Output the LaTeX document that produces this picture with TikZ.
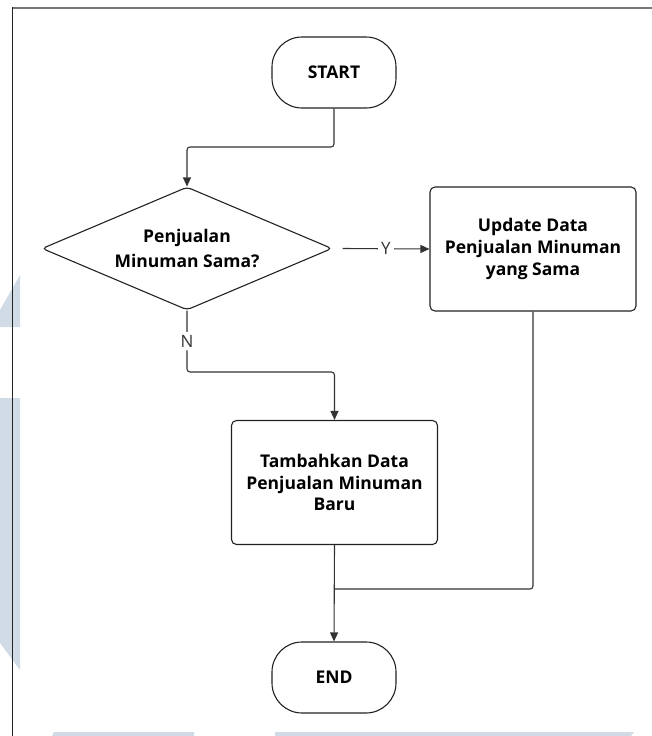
\documentclass[tikz,border=0pt]{standalone}
\usepackage{fontspec}
\setmainfont{Open Sans}
\usetikzlibrary{shapes.geometric,arrows.meta}
\definecolor{ink}{HTML}{222222}
\definecolor{wire}{HTML}{333333}
\definecolor{frameline}{HTML}{777777}
\definecolor{wmblue}{HTML}{D0DBE6}
\tikzset{
  terminal/.style={draw=ink, line width=1.1pt, rounded corners=30pt,
    minimum width=124pt, minimum height=71pt, inner sep=0pt,
    font=\fontsize{17.5}{22}\selectfont\bfseries},
  process/.style={draw=ink, line width=1.1pt, rounded corners=5pt,
    minimum width=206pt, minimum height=124pt, inner sep=0pt, align=center,
    font=\fontsize{17.5}{21.7}\selectfont\bfseries},
  decision/.style={draw=ink, line width=1.1pt, shape=diamond, rounded corners=4pt,
    aspect=2.358, minimum width=290pt, minimum height=123pt, inner sep=0pt,
    align=center, font=\fontsize{17.5}{25}\selectfont\bfseries},
  conn/.style={draw=wire, line width=1.1pt, rounded corners=3pt,
    -{Triangle[length=9pt,width=8pt]}},
  plain/.style={draw=wire, line width=1.1pt, rounded corners=3pt},
  lbl/.style={fill=white, inner sep=3pt, text=wire,
    font=\fontsize{17}{18}\selectfont},
}
\begin{document}
\begin{tikzpicture}[x=1pt, y=-1pt]
\useasboundingbox (0,0) rectangle (652,736);

% light background marks
\fill[wmblue] (0,310) -- (20,275) -- (20,327) -- (0,327) -- cycle;
\fill[wmblue] (0,398) -- (20,398) -- (20,670) -- (0,643) -- cycle;
\fill[wmblue] (54,732) -- (194,732) -- (194,736) -- (52,736) -- cycle;
\fill[wmblue] (275,732) -- (634,732) -- (631,736) -- (275,736) -- cycle;

% page frame
\draw[frameline, line width=2pt] (12,8) -- (652,8);
\draw[ink, line width=1pt] (12,7) -- (12,736);

% shapes
\node[terminal] (start) at (334,72.5) {START};
\node[decision] (dec) at (187,248.5) {Penjualan\\Minuman Sama?};
\node[process] (upd) at (533,249) {Update Data\\Penjualan Minuman\\yang Sama};
\node[process] (tam) at (334.5,482.5) {Tambahkan Data\\Penjualan Minuman\\Baru};
\node[terminal] (end) at (334,677.5) {END};

\coordinate (join) at (tam.south |- 0,589);

% connectors
\draw[conn] (start.south) -- (start.south |- 0,147) -| (dec.north);
\draw[conn] ([xshift=10pt]dec.east) -- node[lbl] {Y} (upd.west);
\draw[conn] (dec.south) -- node[lbl, pos=0.5] {N} (dec.south |- 0,372) -| (tam.north);
\draw[conn] (tam.south) -- (end.north);
\draw[plain] (upd.south) |- (join);
\end{tikzpicture}
\end{document}
